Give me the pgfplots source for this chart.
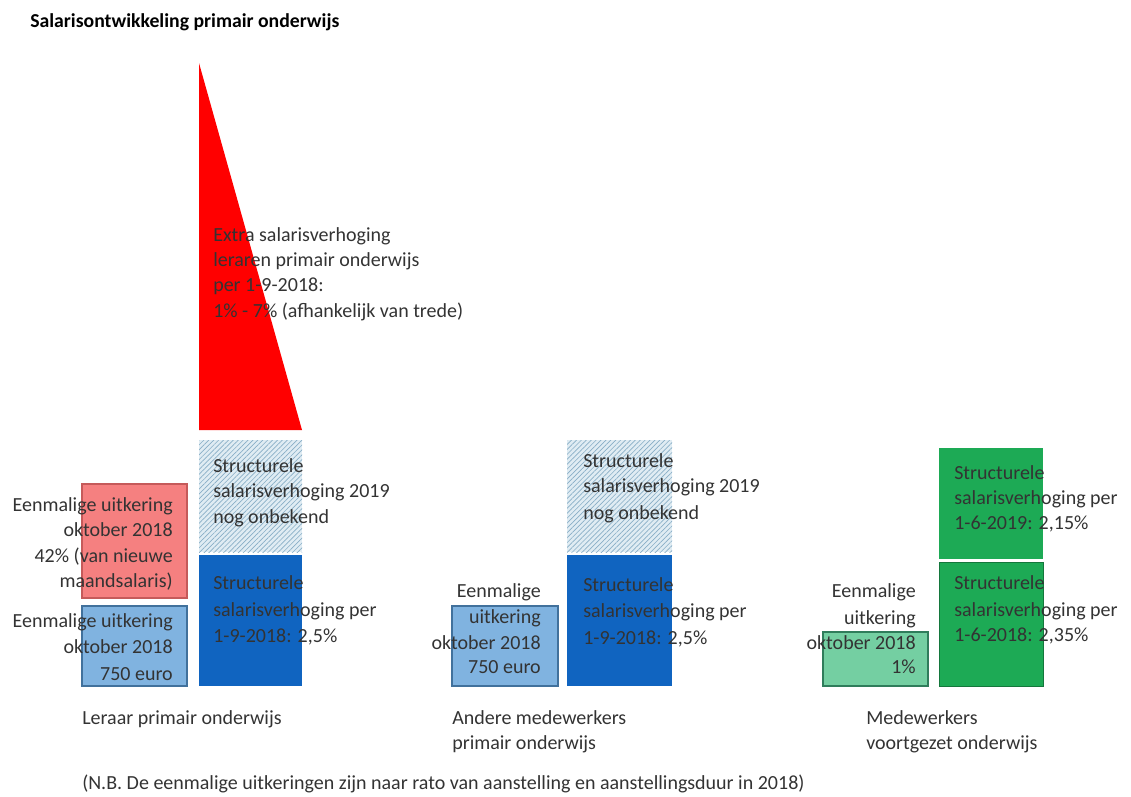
\documentclass[border=0pt]{standalone}
\usepackage{pgfplots}
\pgfplotsset{compat=1.18}
\usetikzlibrary{patterns.meta}
\usepackage{fontspec}
\setmainfont{Carlito}

\definecolor{lblue}{HTML}{80B3E0}
\definecolor{lblueedge}{HTML}{41719C}
\definecolor{dblue}{HTML}{1064C0}
\definecolor{pink}{HTML}{F58080}
\definecolor{pinkedge}{HTML}{C55A5A}
\definecolor{hatchbg}{HTML}{E0ECF3}
\definecolor{hatchline}{HTML}{88AEC6}
\definecolor{green}{HTML}{1DAA55}
\definecolor{lgreen}{HTML}{74CFA2}
\definecolor{lgreenedge}{HTML}{2F7D5B}
\definecolor{txt}{HTML}{333333}

% one line of text, placed by its baseline in pixel coordinates
\newcommand{\lbl}[4]{\node[anchor=base #3, inner sep=0pt, text=txt] at (axis cs:#1,#2) {#4};}

\begin{document}
\fontsize{15}{17}\selectfont
\begin{tikzpicture}
\begin{axis}[
  scale only axis, width=848.25pt, height=597pt,
  xmin=0, xmax=1131, ymin=0, ymax=796, y dir=reverse,
  hide axis, clip=false]

\path (rel axis cs:0,0) (rel axis cs:1,1);

% Leraar primair onderwijs
\addplot[fill=red, draw=none] coordinates {(199,63) (302,430) (199,430)} -- cycle;
\addplot[fill=hatchbg, draw=none, postaction={pattern color=hatchline, pattern={Lines[angle=45,distance=2.6pt,line width=0.5pt]}}]
  coordinates {(199,440) (302,440) (302,552) (199,552)} -- cycle;
\addplot[fill=dblue, draw=none] coordinates {(199,555) (302,555) (302,686) (199,686)} -- cycle;
\addplot[fill=pink, draw=pinkedge, line width=0.8pt] coordinates {(82,484) (187,484) (187,598) (82,598)} -- cycle;
\addplot[fill=lblue, draw=lblueedge, line width=0.8pt] coordinates {(82,606) (187,606) (187,686) (82,686)} -- cycle;

% Andere medewerkers primair onderwijs
\addplot[fill=hatchbg, draw=none, postaction={pattern color=hatchline, pattern={Lines[angle=45,distance=2.6pt,line width=0.5pt]}}]
  coordinates {(567,440) (672,440) (672,552) (567,552)} -- cycle;
\addplot[fill=dblue, draw=none] coordinates {(567,555) (672,555) (672,686) (567,686)} -- cycle;
\addplot[fill=lblue, draw=lblueedge, line width=0.8pt] coordinates {(452,606) (558,606) (558,686) (452,686)} -- cycle;

% Medewerkers voortgezet onderwijs
\addplot[fill=green, draw=none] coordinates {(939,448) (1043,448) (1043,559) (939,559)} -- cycle;
\addplot[fill=green, draw=green!70!black, line width=0.5pt] coordinates {(939,562) (1043,562) (1043,686) (939,686)} -- cycle;
\addplot[fill=lgreen, draw=lgreenedge, line width=0.8pt] coordinates {(823,632) (928,632) (928,686) (823,686)} -- cycle;

% texts
\node[anchor=base west, inner sep=0pt, text=black, font=\bfseries\fontsize{14.8}{17}\selectfont] at (axis cs:30,27) {Salarisontwikkeling primair onderwijs};

\lbl{213}{241}{west}{Extra salarisverhoging}
\lbl{213}{266}{west}{leraren primair onderwijs}
\lbl{213}{291}{west}{per 1-9-2018:}
\lbl{213}{317}{west}{1\% - 7\% (afhankelijk van trede)}

\lbl{213}{472}{west}{Structurele}
\lbl{213}{497}{west}{salarisverhoging 2019}
\lbl{213}{523}{west}{nog onbekend}
\lbl{213}{589}{west}{Structurele}
\lbl{213}{616}{west}{salarisverhoging per}
\lbl{213}{642}{west}{1-9-2018: 2,5\%}

\lbl{173}{511}{east}{Eenmalige uitkering}
\lbl{173}{536}{east}{oktober 2018}
\lbl{173}{562}{east}{42\% (van nieuwe}
\lbl{173}{587}{east}{maandsalaris)}
\lbl{173}{627}{east}{Eenmalige uitkering}
\lbl{173}{653}{east}{oktober 2018}
\lbl{173}{680}{east}{750 euro}

\lbl{541}{597}{east}{Eenmalige}
\lbl{541}{623}{east}{uitkering}
\lbl{541}{649}{east}{oktober 2018}
\lbl{541}{673}{east}{750 euro}
\lbl{583}{467}{west}{Structurele}
\lbl{583}{492}{west}{salarisverhoging 2019}
\lbl{583}{519}{west}{nog onbekend}
\lbl{583}{591}{west}{Structurele}
\lbl{583}{617}{west}{salarisverhoging per}
\lbl{583}{644}{west}{1-9-2018: 2,5\%}

\lbl{916}{597}{east}{Eenmalige}
\lbl{916}{624}{east}{uitkering}
\lbl{916}{649}{east}{oktober 2018}
\lbl{916}{673}{east}{1\%}
\lbl{954}{479}{west}{Structurele}
\lbl{954}{504}{west}{salarisverhoging per}
\lbl{954}{529}{west}{1-6-2019: 2,15\%}
\lbl{954}{589}{west}{Structurele}
\lbl{954}{616}{west}{salarisverhoging per}
\lbl{954}{641}{west}{1-6-2018: 2,35\%}

\lbl{82}{724}{west}{Leraar primair onderwijs}
\lbl{452}{724}{west}{Andere medewerkers}
\lbl{452}{749}{west}{primair onderwijs}
\lbl{866}{724}{west}{Medewerkers}
\lbl{866}{749}{west}{voortgezet onderwijs}
\lbl{82}{789}{west}{(N.B. De eenmalige uitkeringen zijn naar rato van aanstelling en aanstellingsduur in 2018)}
\end{axis}
\end{tikzpicture}
\end{document}
